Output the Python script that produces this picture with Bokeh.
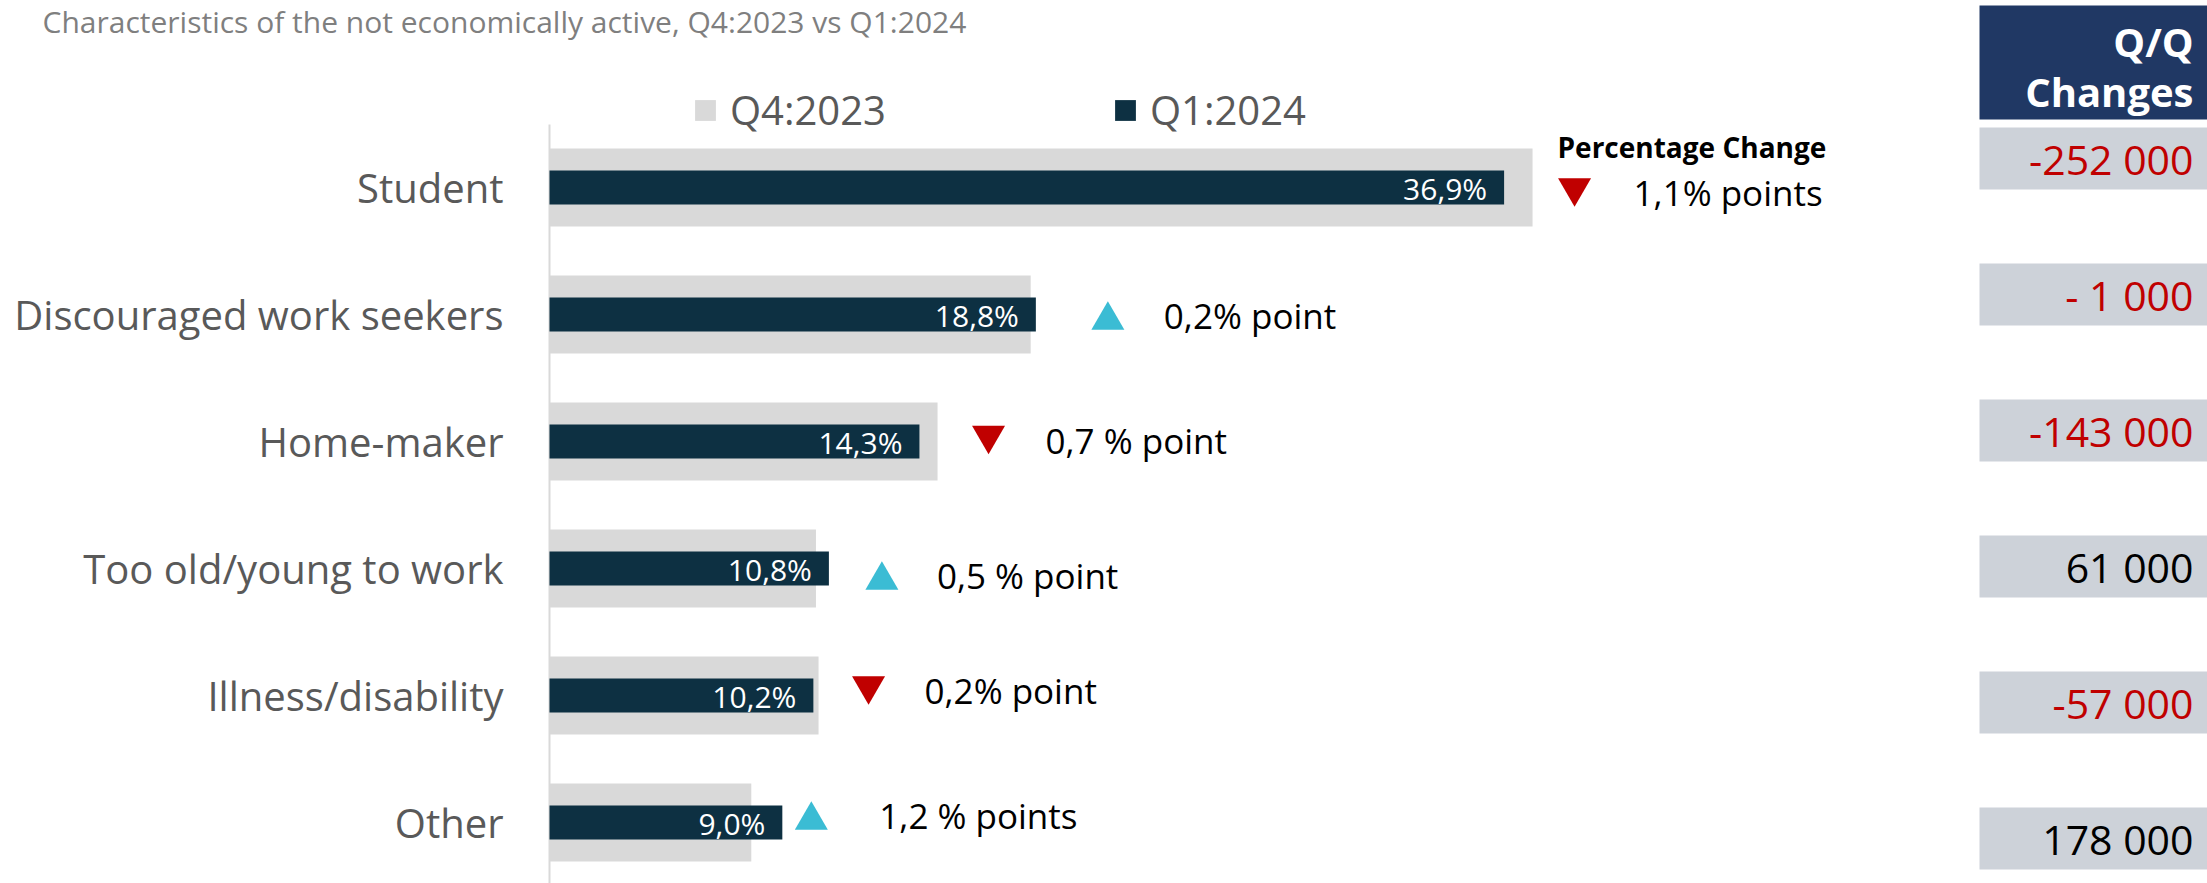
from bokeh.plotting import figure
from bokeh.models import Range1d, Legend, LegendItem, ColumnDataSource
from bokeh.core.properties import value
from bokeh.embed import file_html
from bokeh.resources import INLINE

# ---------------- data ----------------
categories = ["Student", "Discouraged work seekers", "Home-maker",
              "Too old/young to work", "Illness/disability", "Other"]
q4_2023 = [38.0, 18.6, 15.0, 10.3, 10.4, 7.8]
q1_2024 = [36.9, 18.8, 14.3, 10.8, 10.2, 9.0]
pct_change = [-1.1, 0.2, -0.7, 0.5, -0.2, 1.2]
pct_change_labels = ["1,1% points", "0,2% point", "0,7 % point",
                     "0,5 % point", "0,2% point", "1,2 % points"]
qq_changes = [-252000, -1000, -143000, 61000, -57000, 178000]
qq_change_labels = ["-252 000", "- 1 000", "-143 000", "61 000", "-57 000", "178 000"]
series_names = ["Q4:2023", "Q1:2024"]
title_text = "Characteristics of the not economically active, Q4:2023 vs Q1:2024"
pct_header = "Percentage Change"
table_header = ["Q/Q", "Changes"]

# ---------------- layout constants (page pixels) ----------------
W, H = 2207, 883
AXIS_X = 549            # where 0 % sits
PX_PER_PCT = 25.87
ROW0_Y = 187            # centre of the first category
ROW_STEP = 127
AXIS_TOP_Y = 124
marker_gap_px = [42, 72, 51, 53, 50, 29]
text_gap_px = [59, 56, 57, 55, 56, 68]
note_dy_px = [5, 1, -1.5, 7, -5, -7]
TRI_SIZE = 33
TRI_SHIFT = TRI_SIZE / 2 * 3 ** 0.5 / 6

TABLE_LEFT, TABLE_RIGHT, TABLE_TEXT_X = 1979, 2210, 2193
TABLE_ROW0_Y, TABLE_STEP, TABLE_CELL_H = 158, 136, 62

FONT = value("Open Sans")

n = len(categories)
ypos = [n - 1 - i for i in range(n)]
y_end = (n - 1) + ROW0_Y / ROW_STEP
y_start = y_end - H / ROW_STEP

p = figure(width=W, height=H, output_backend="svg", toolbar_location=None,
           x_range=Range1d(-AXIS_X / PX_PER_PCT, (W - AXIS_X) / PX_PER_PCT),
           y_range=Range1d(y_start, y_end),
           x_axis_location=None, y_axis_location=None,
           min_border_left=0, min_border_right=0, min_border_top=0, min_border_bottom=0)
p.extra_x_ranges = {"px": Range1d(0, W)}
p.extra_y_ranges = {"px": Range1d(H, 0)}
p.xgrid.visible = False
p.ygrid.visible = False
p.outline_line_color = None
p.background_fill_color = "white"
p.border_fill_color = "white"

# category axis line
p.segment(x0=[0], y0=[y_end - AXIS_TOP_Y / ROW_STEP], x1=[0], y1=[y_start],
          line_color="#d9d9d9", line_width=2)

src = ColumnDataSource(dict(
    y=ypos, cat=categories, q4=q4_2023, q1=q1_2024,
    zero=[0] * n,
    lbl=[f"{v:.1f}".replace(".", ",") + "%" for v in q1_2024],
))
# category labels
p.text(x="zero", y="y", text="cat", source=src, x_offset=-46,
       text_align="right", text_baseline="middle", text_color="#595959",
       text_font=FONT, text_font_size="40px")

r_q4 = p.hbar(y="y", left=0, right="q4", height=78 / ROW_STEP, fill_color="#d9d9d9",
              line_color=None, source=src)
r_q1 = p.hbar(y="y", left=0, right="q1", height=34 / ROW_STEP, fill_color="#0d3042",
              line_color=None, source=src)
p.text(x="q1", y="y", text="lbl", source=src, x_offset=-17, y_offset=1,
       text_align="right", text_baseline="middle", text_color="white",
       text_font=FONT, text_font_size="30px")

# change markers + notes
up_x, up_y, dn_x, dn_y = [], [], [], []
note_x, note_y = [], []
for i in range(n):
    base = max(q4_2023[i], q1_2024[i]) + marker_gap_px[i] / PX_PER_PCT
    yc = ypos[i] - note_dy_px[i] / ROW_STEP
    if pct_change[i] >= 0:
        up_x.append(base); up_y.append(yc - TRI_SHIFT / ROW_STEP)
    else:
        dn_x.append(base); dn_y.append(yc + TRI_SHIFT / ROW_STEP)
    note_x.append(base)
    note_y.append(yc)
p.scatter(up_x, up_y, marker="triangle", size=TRI_SIZE, fill_color="#3bbcd4", line_color=None)
p.scatter(dn_x, dn_y, marker="inverted_triangle", size=TRI_SIZE, fill_color="#c00000", line_color=None)
note_src = ColumnDataSource(dict(x=note_x, y=note_y, t=pct_change_labels, dx=text_gap_px))
p.text(x="x", y="y", text="t", x_offset="dx", source=note_src,
       text_align="left", text_baseline="middle", text_color="black",
       text_font=FONT, text_font_size="35px")

# Q/Q table
p.quad(left=TABLE_LEFT, right=TABLE_RIGHT, top=5, bottom=119, fill_color="#203864",
       line_color=None, x_range_name="px", y_range_name="px")
p.text(x=[TABLE_TEXT_X, TABLE_TEXT_X], y=[41, 91], text=table_header,
       x_range_name="px", y_range_name="px", text_align="right",
       text_baseline="middle", text_color="white", text_font=FONT,
       text_font_style="bold", text_font_size="40px")
centres = [TABLE_ROW0_Y + TABLE_STEP * k for k in range(n)]
tsrc = ColumnDataSource(dict(
    top=[c - TABLE_CELL_H / 2 for c in centres],
    bottom=[c + TABLE_CELL_H / 2 for c in centres],
    ty=centres,
    t=qq_change_labels,
    c=["#c00000" if v < 0 else "black" for v in qq_changes],
))
p.quad(left=TABLE_LEFT, right=TABLE_RIGHT, top="top", bottom="bottom", source=tsrc,
       fill_color="#cdd2d9", line_color=None, x_range_name="px", y_range_name="px")
p.text(x=TABLE_TEXT_X, y="ty", text="t", text_color="c", source=tsrc,
       x_range_name="px", y_range_name="px", text_align="right",
       text_baseline="middle", text_font=FONT, text_font_size="41px")

# title and header
p.text(x=[42], y=[21], text=[title_text], x_range_name="px", y_range_name="px",
       text_baseline="middle", text_font=FONT, text_font_size="30px", text_color="#7f7f7f")
p.text(x=[1557], y=[146], text=[pct_header], x_range_name="px", y_range_name="px",
       text_baseline="middle", text_font=FONT, text_font_style="bold",
       text_font_size="28px", text_color="black")

# legends
for r, name, lx in [(r_q4, series_names[0], 692), (r_q1, series_names[1], 1112)]:
    leg = Legend(items=[LegendItem(label=name, renderers=[r])],
                 location=(lx, H - 110 - 27), orientation="horizontal",
                 glyph_width=26, glyph_height=26, label_standoff=12, padding=0, margin=0,
                 spacing=0, border_line_color=None, background_fill_alpha=0,
                 label_text_font="Open Sans", label_text_font_size="40px",
                 label_text_color="#595959")
    p.add_layout(leg)

open("out.html", "w").write(file_html(p, INLINE))
